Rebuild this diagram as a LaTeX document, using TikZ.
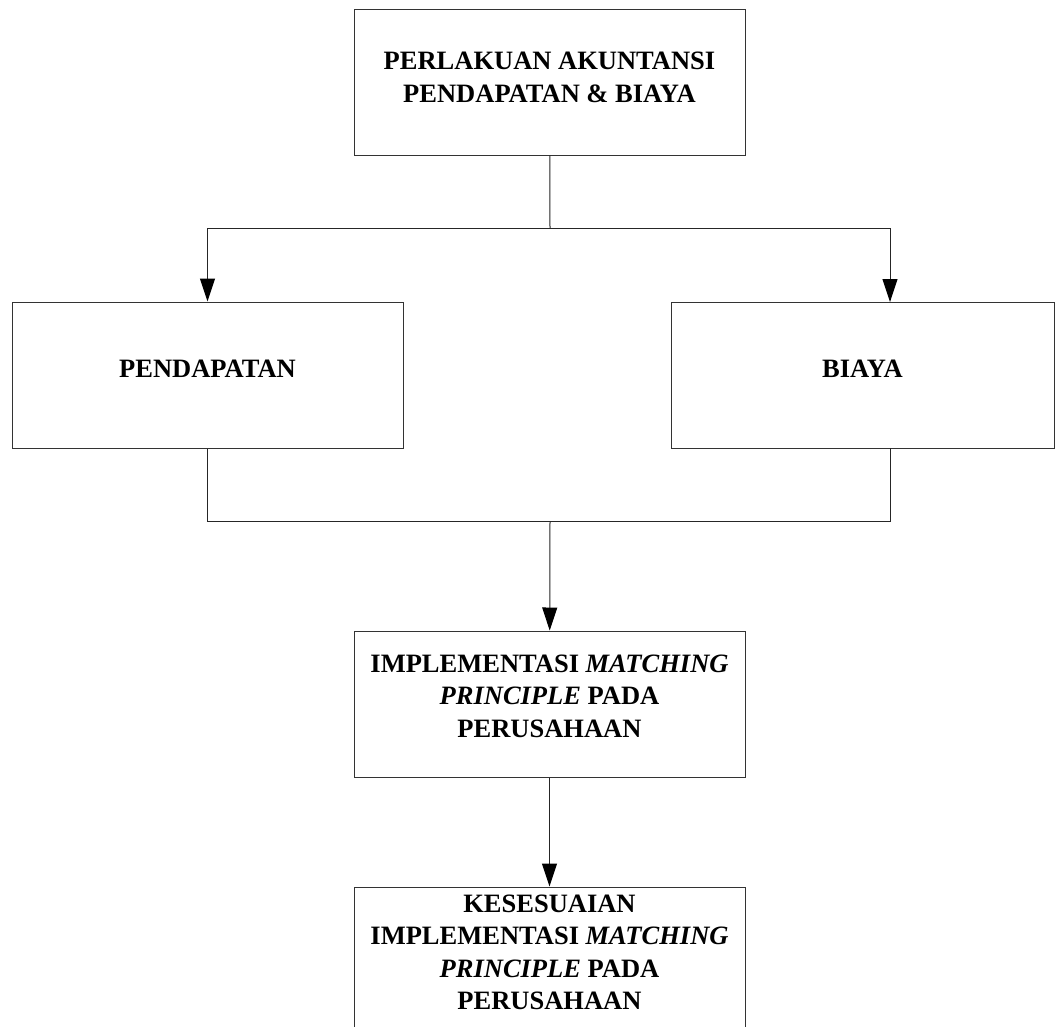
\documentclass[tikz,border=0pt]{standalone}
\usepackage{fontspec}
\setmainfont{Liberation Serif}
\usetikzlibrary{arrows.meta,positioning}

\begin{document}
\begin{tikzpicture}[x=1pt, y=-1pt, >={Triangle[length=23pt,width=15pt,color=black]},
  box/.style={draw=black!80, line width=1pt, minimum width=391pt, minimum height=146pt, inner sep=0pt},
  txt/.style={font=\fontsize{26.5}{32.5}\selectfont\bfseries, align=center, inner sep=0pt, anchor=north},
  link/.style={draw=black!85, line width=1pt}]
  \clip (0,0) rectangle (1055,1026);
  % boxes
  \node[box] (top) at (549.5,82) {};
  \node[box] (rev) at (207.5,375) {};
  \node[box, minimum width=383pt] (cost) at (862.5,375) {};
  \node[box] (impl) at (549.5,704) {};
  \node[box, minimum height=200pt] (fit) at (549.5,987) {};
  % texts
  \node[txt, below=43.5pt of top.north] (toptext) {PERLAKUAN AKUNTANSI\\PENDAPATAN \& BIAYA};
  \node[txt, below=58pt of rev.north] (revtext) {PENDAPATAN};
  \node[txt, below=58pt of cost.north] (costtext) {BIAYA};
  \node[txt, below=24pt of impl.north] (impltext) {IMPLEMENTASI \textit{MATCHING}\\\textit{PRINCIPLE} PADA\\PERUSAHAAN};
  \node[txt, below=8pt of fit.north] (fittext) {KESESUAIAN\\IMPLEMENTASI \textit{MATCHING}\\\textit{PRINCIPLE} PADA\\PERUSAHAAN};
  % connectors
  \coordinate (split) at (550,228);
  \coordinate (merge) at (550,521);
  \coordinate (costin) at (890,302);
  \coordinate (costout) at (890,448);
  \draw[link] (top) -- (split);
  \draw[link, ->] (split) -| (rev.north);
  \draw[link, ->] (split) -| (costin);
  \draw[link] (rev.south) |- (merge);
  \draw[link] (costout) |- (merge);
  \draw[link, ->] (merge) -- (impl);
  \draw[link, ->] (impl) -- (fit);
\end{tikzpicture}
\end{document}
